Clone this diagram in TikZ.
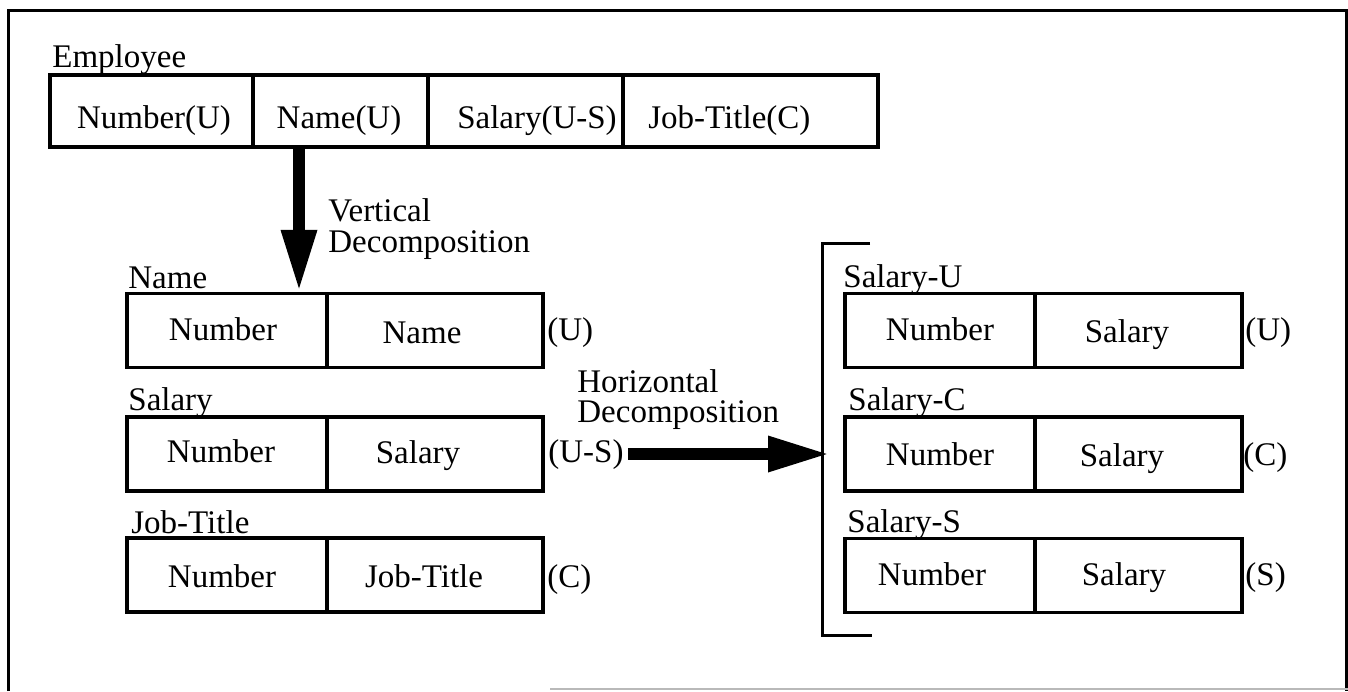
\documentclass[tikz,border=0pt]{standalone}
\usepackage{fontspec}
\setmainfont{Liberation Serif}
\usetikzlibrary{arrows.meta}
\begin{document}
\begin{tikzpicture}[x=0.5pt,y=-0.5pt,
  font=\fontsize{16.5pt}{19pt}\selectfont,
  cell/.style={draw, line width=1.6pt, inner sep=0pt},
  ecell/.style={cell, minimum height=36pt},
  rcell/.style={cell, minimum height=37pt},
  txt/.style={inner sep=0pt, anchor=base},
  ttl/.style={inner sep=0pt, anchor=base west},
  bigarrow/.style={line width=6pt, -{Triangle[length=31pt,width=16.5pt]}},
  frameline/.style={line width=1.5pt}]
\useasboundingbox (0,0) rectangle (1348,691);

% outer frame
\draw[frameline] (8,691) -- (8,10) -- (1346,10) -- (1346,691);
\draw[gray!55, line width=1.2pt] (550,689) -- (1348,689);

% Employee relation
\node[ttl] (empt) at (52,67) {Employee};
\node[ecell, minimum width=101.5pt] (e1) at (151.5,111) {};
\node[ecell, minimum width=87.5pt]  (e2) at (340.5,111) {};
\node[ecell, minimum width=97.5pt]  (e3) at (525.5,111) {};
\node[ecell, minimum width=127.5pt] (e4) at (750.5,111) {};
\node[txt] (e1t) at (154,128) {Number(U)};
\node[txt] (e2t) at (339,128) {Name(U)};
\node[txt] (e3t) at (537,128) {Salary(U-S)};
\node[ttl] (e4t) at (648,128) {Job-Title(C)};

% Name relation
\node[ttl] (nmt) at (128,288) {Name};
\node[rcell, minimum width=100pt] (n1) at (227,330.5) {};
\node[rcell, minimum width=108pt] (n2) at (435,330.5) {};
\node[txt] (n1t) at (223,340) {Number};
\node[txt] (n2t) at (422,343) {Name};
\node[ttl] (n3t) at (547,340) {(U)};

% Salary relation
\node[ttl] (slt) at (128,410) {Salary};
\node[rcell, minimum width=100pt] (s1) at (227,454) {};
\node[rcell, minimum width=108pt] (s2) at (435,454) {};
\node[txt] (s1t) at (221,462) {Number};
\node[txt] (s2t) at (418,463) {Salary};
\node[ttl] (s3t) at (548,462) {(U-S)};

% Job-Title relation
\node[ttl] (jtt) at (131,533) {Job-Title};
\node[rcell, minimum width=100pt] (j1) at (227,575) {};
\node[rcell, minimum width=108pt] (j2) at (435,575) {};
\node[txt] (j1t) at (222,587) {Number};
\node[txt] (j2t) at (424,587) {Job-Title};
\node[ttl] (j3t) at (547,587) {(C)};

% Salary-U
\node[ttl] (sut) at (843,287) {Salary-U};
\node[rcell, minimum width=95pt]   (u1) at (940,330.5) {};
\node[rcell, minimum width=103.5pt] (u2) at (1138.5,330.5) {};
\node[txt] (u1t) at (940,340) {Number};
\node[txt] (u2t) at (1127,342) {Salary};
\node[ttl] (u3t) at (1245,340) {(U)};

% Salary-C
\node[ttl] (sct) at (848,410) {Salary-C};
\node[rcell, minimum width=95pt]   (c1) at (940,454) {};
\node[rcell, minimum width=103.5pt] (c2) at (1138.5,454) {};
\node[txt] (c1t) at (940,465) {Number};
\node[txt] (c2t) at (1122,466) {Salary};
\node[ttl] (c3t) at (1243,465) {(C)};

% Salary-S
\node[ttl] (sst) at (847,532) {Salary-S};
\node[rcell, minimum width=95pt]   (x1) at (940,575.5) {};
\node[rcell, minimum width=103.5pt] (x2) at (1138.5,575.5) {};
\node[txt] (x1t) at (932,585) {Number};
\node[txt] (x2t) at (1124,585) {Salary};
\node[ttl] (x3t) at (1245,585) {(S)};

% bracket
\draw[frameline] (870,243) -- (822,243) -- (822,635) -- (872,635);

% vertical decomposition
\coordinate (vs) at (299,147);
\draw[bigarrow] (vs) -- (vs |- n1.north);
\node[ttl] (vl1) at (328,221) {Vertical};
\node[ttl] (vl2) at (328,252) {Decomposition};

% horizontal decomposition
\coordinate (hs) at (628,454);
\coordinate (ht) at (830,454);
\draw[bigarrow] (hs) -- (ht);
\node[ttl] (hl1) at (577,392) {Horizontal};
\node[ttl] (hl2) at (577,422) {Decomposition};
\end{tikzpicture}
\end{document}
